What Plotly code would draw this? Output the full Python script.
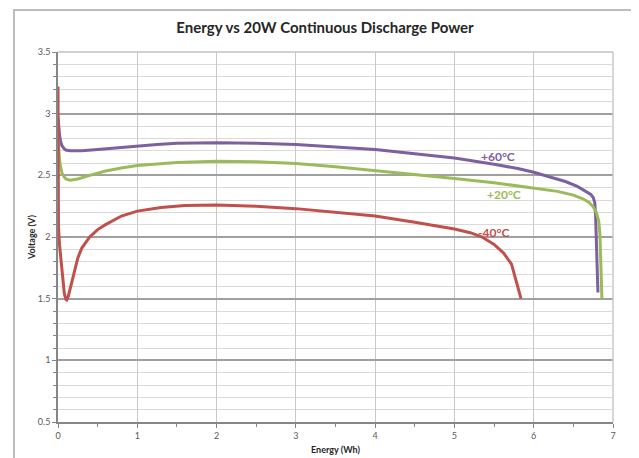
import plotly.graph_objects as go

# Data (Energy in Wh, Voltage in V)
e_60 = [0, 0.005, 0.01, 0.02, 0.035, 0.05, 0.08, 0.1, 0.15, 0.2, 0.3, 0.5, 0.75, 1.0, 1.25, 1.5, 2.0, 2.5, 3.0, 3.5, 4.0, 4.5, 5.0, 5.5, 5.8, 6.0, 6.2, 6.4, 6.55, 6.65, 6.72, 6.75, 6.77, 6.78, 6.79, 6.80, 6.81]
v_60 = [2.97, 2.92, 2.88, 2.82, 2.77, 2.74, 2.715, 2.705, 2.70, 2.70, 2.70, 2.71, 2.725, 2.74, 2.75, 2.76, 2.765, 2.76, 2.75, 2.73, 2.71, 2.675, 2.64, 2.59, 2.555, 2.525, 2.49, 2.45, 2.41, 2.375, 2.345, 2.32, 2.28, 2.18, 2.00, 1.80, 1.55]

e_20 = [0, 0.005, 0.01, 0.02, 0.035, 0.05, 0.08, 0.1, 0.15, 0.2, 0.25, 0.4, 0.6, 0.8, 1.0, 1.5, 2.0, 2.5, 3.0, 3.5, 4.0, 4.5, 5.0, 5.5, 6.0, 6.3, 6.5, 6.62, 6.7, 6.75, 6.79, 6.82, 6.835, 6.845, 6.855, 6.86]
v_20 = [2.80, 2.75, 2.70, 2.62, 2.56, 2.52, 2.485, 2.47, 2.46, 2.462, 2.47, 2.50, 2.535, 2.56, 2.58, 2.605, 2.615, 2.61, 2.595, 2.57, 2.54, 2.51, 2.475, 2.44, 2.40, 2.37, 2.34, 2.31, 2.28, 2.245, 2.20, 2.13, 2.02, 1.85, 1.65, 1.50]

e_m40 = [0, 0.003, 0.006, 0.02, 0.04, 0.06, 0.08, 0.1, 0.11, 0.13, 0.16, 0.2, 0.25, 0.3, 0.35, 0.4, 0.5, 0.6, 0.8, 1.0, 1.3, 1.6, 2.0, 2.5, 3.0, 3.5, 4.0, 4.5, 5.0, 5.2, 5.35, 5.5, 5.62, 5.72, 5.84]
v_m40 = [3.22, 2.5, 2.08, 1.93, 1.78, 1.64, 1.54, 1.495, 1.49, 1.52, 1.60, 1.72, 1.83, 1.91, 1.96, 2.00, 2.06, 2.10, 2.17, 2.21, 2.24, 2.255, 2.26, 2.25, 2.23, 2.20, 2.17, 2.12, 2.065, 2.035, 2.0, 1.94, 1.87, 1.78, 1.50]

labels = ["+60°C", "+20°C", "-40°C"]
label_pos_x = [5.55, 5.62, 5.49]
label_pos_y = [2.655, 2.345, 2.04]

c60 = "#7D60A0"
c20 = "#9BBB59"
cm40 = "#C0504D"

fig = go.Figure()
for e, v, c, name in [(e_60, v_60, c60, labels[0]), (e_20, v_20, c20, labels[1]), (e_m40, v_m40, cm40, labels[2])]:
    fig.add_trace(go.Scatter(x=e, y=v, mode="lines", name=name,
                             line=dict(color=c, width=3)))

for t, x, y, c in zip(labels, label_pos_x, label_pos_y, [c60, c20, cm40]):
    fig.add_annotation(x=x, y=y, text="<b>%s</b>" % t, showarrow=False,
                       font=dict(family="Lato", size=12, color=c), xanchor="center", yanchor="middle")

# page body has an 8px margin: figure is sized/offset to compensate
W, H = 631, 450
L, R, T, B = 50, 26, 44, 36
PW, PH = W - L - R, H - T - B

font_fam = "Lato"
fig.update_layout(
    width=W, height=H,
    margin=dict(l=L, r=R, t=T, b=B, autoexpand=False),
    paper_bgcolor="white", plot_bgcolor="white",
    showlegend=False,
    title=dict(text="<b>Energy vs 20W Continuous Discharge Power</b>", x=317 / W, xanchor="center",
               y=1 - 20 / H, yanchor="middle", font=dict(family=font_fam, size=15, color="#262626"),
               automargin=False),
    font=dict(family=font_fam, size=9, color="#595959"),
)
fig.update_xaxes(range=[0, 7], dtick=1, showgrid=True, gridcolor="#C8C8C8", gridwidth=1,
                 showline=True, linecolor="#868686", linewidth=1.5, mirror=False,
                 ticks="outside", ticklen=4, tickcolor="#868686", zeroline=False, automargin=False,
                 minor=dict(dtick=0.5, ticks="outside", ticklen=3, tickcolor="#868686", showgrid=False),
                 title=dict(text="<b>Energy (Wh)</b>", font=dict(size=9, color="#262626"), standoff=7),
                 tickfont=dict(size=9, color="#595959"))
fig.update_yaxes(range=[0.5, 3.5], dtick=0.5, showgrid=True, gridcolor="#A0A0A0", gridwidth=1.5,
                 showline=True, linecolor="#868686", linewidth=1.5, automargin=False,
                 ticks="outside", ticklen=4, tickcolor="#868686", zeroline=False,
                 minor=dict(dtick=0.1, ticks="outside", ticklen=3, tickcolor="#868686",
                            showgrid=True, gridcolor="#DADADA", gridwidth=1),
                 title=dict(text="<b>Voltage (V)</b>", font=dict(size=9, color="#262626"), standoff=1),
                 tickfont=dict(size=9, color="#595959"))

# chart outer border
fig.add_shape(type="rect", xref="paper", yref="paper",
              x0=(6 - L) / PW, x1=(629 - L) / PW, y0=-(B + 30) / PH, y1=(T + PH - 2) / PH,
              line=dict(color="#BDBDBD", width=2), fillcolor="rgba(0,0,0,0)", layer="below")
# plot area top/right frame
fig.add_shape(type="line", xref="paper", yref="paper", x0=0, x1=1, y0=1, y1=1,
              line=dict(color="#C0C0C0", width=1.5))
fig.add_shape(type="line", xref="paper", yref="paper", x0=1, x1=1, y0=0, y1=1,
              line=dict(color="#C8C8C8", width=1.5))

fig.write_html("out.html")
